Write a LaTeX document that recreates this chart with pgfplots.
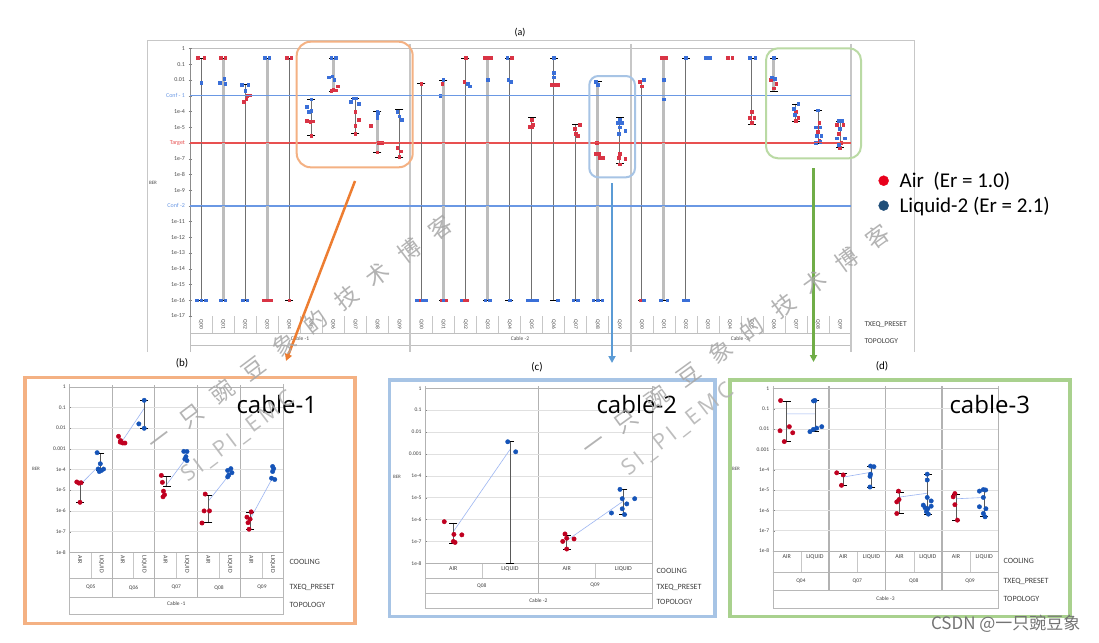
\documentclass[border=0pt]{standalone}
\usepackage{fontspec}
\setmainfont{Carlito}
\newfontfamily\cjk{Noto Sans CJK SC}
\newfontfamily\hand{Open Sans}
\usepackage{pgfplots}
\usepackage{pgfplotstable}
\pgfplotsset{compat=1.18}
\usetikzlibrary{arrows.meta}

\definecolor{ptred}{HTML}{D93445}
\definecolor{ptblue}{HTML}{3A6FD8}
\definecolor{dred}{HTML}{C00020}
\definecolor{dblue}{HTML}{1554B8}
\definecolor{legred}{HTML}{E8001C}
\definecolor{legblue}{HTML}{1F4E79}
\definecolor{confblue}{HTML}{6A98E4}
\definecolor{tgtred}{HTML}{E85050}
\definecolor{fgorange}{HTML}{F4B183}
\definecolor{fgblue}{HTML}{A7C4E5}
\definecolor{fggreen}{HTML}{A9D18E}
\definecolor{arrorange}{HTML}{ED7D31}
\definecolor{arrblue}{HTML}{5B9BD5}
\definecolor{arrgreen}{HTML}{70AD47}
\definecolor{meanblue}{HTML}{9DB6F2}
\definecolor{barthin}{HTML}{707070}
\definecolor{barthick}{HTML}{BDBDBD}

\pgfplotstableread{
x y
0.5 0.25
0.5 1e-16
nan nan
2.5 0.005
2.5 1e-16
nan nan
4.5 0.25
4.5 1e-16
nan nan
5.5 6e-4
5.5 3e-6
nan nan
7.5 7e-4
7.5 4e-6
nan nan
9.5 1.3e-4
9.5 1.3e-7
nan nan
10.5 0.006
10.5 1e-16
nan nan
12.5 0.25
12.5 1e-16
nan nan
14.5 0.25
14.5 1e-16
nan nan
15.5 4e-5
15.5 1e-16
nan nan
16.5 0.25
16.5 1e-16
nan nan
17.5 1.5e-5
17.5 1e-16
nan nan
19.5 4e-5
19.5 5e-8
nan nan
20.5 0.01
20.5 1e-16
nan nan
22.5 0.25
22.5 1e-16
nan nan
25.5 0.25
25.5 1.5e-5
nan nan
27.5 3e-4
27.5 2.5e-5
nan nan
28.5 1.2e-4
28.5 1e-6
nan nan
29.5 2.5e-5
29.5 5e-7
}\mainthin

\pgfplotstableread{
x y
1.5 0.25
1.5 1e-16
nan nan
3.5 0.25
3.5 1e-16
nan nan
6.5 0.25
6.5 0.002
nan nan
8.5 1e-4
8.5 2.5e-7
nan nan
11.5 0.01
11.5 1e-16
nan nan
13.5 0.25
13.5 1e-16
nan nan
18.5 0.008
18.5 1e-16
nan nan
21.5 0.25
21.5 1e-16
nan nan
26.5 0.25
26.5 0.002
}\mainthick

\pgfplotstableread{
x y
0.35 0.25
0.65 0.25
1.4 0.25
1.6 0.25
2.6 1e-3
2.7 1.1e-3
2.55 6e-4
2.45 4e-4
3.35 1e-16
3.5 1e-16
3.65 1e-16
4.4 0.25
4.6 0.25
4.5 1e-16
5.3 2.5e-5
5.45 2.2e-5
5.6 2.4e-5
5.5 3e-6
6.5 2.5e-3
6.7 4e-3
6.4 2e-3
6.6 2.2e-3
7.5 1e-4
7.65 3e-5
7.5 1.2e-5
7.5 4e-6
8.2 1.2e-5
8.55 1e-6
8.7 1e-6
8.5 2.5e-7
9.4 5e-7
9.55 3e-7
9.5 1.3e-7
10.5 0.006
10.4 1e-16
11.45 0.006
11.4 1e-16
11.6 1e-16
12.5 0.25
12.45 0.008
12.4 1e-16
12.55 1e-16
13.35 0.25
13.5 0.25
13.65 0.25
14.6 0.25
15.5 3e-5
15.55 1.5e-5
15.4 1.1e-5
15.5 1e-5
16.4 0.005
16.5 0.005
16.6 0.005
16.7 0.005
17.7 1.5e-5
17.45 8e-6
17.5 4e-6
17.6 3e-6
18.45 1e-6
18.4 2e-7
18.55 2e-7
18.6 1.2e-7
18.75 1.2e-7
19.5 2e-7
19.45 1.2e-7
19.75 1e-7
19.5 4.5e-8
20.4 0.008
20.5 0.004
20.45 1e-16
21.4 0.25
21.6 0.25
24.4 0.25
24.6 0.25
25.5 1e-4
25.4 4e-5
25.6 4e-5
25.5 2e-5
26.35 0.01
26.6 0.006
26.5 0.003
27.5 1e-4
27.6 4e-5
27.5 2.5e-5
28.55 2e-5
28.5 5e-6
28.55 1.5e-6
28.45 1e-5
29.35 1.5e-5
29.65 1.5e-5
29.45 4e-6
29.55 1e-6
29.5 5e-7
}\mainred

\pgfplotstableread{
x y
0.5 0.007
0.3 1e-16
0.5 1e-16
0.7 1e-16
1.55 0.012
1.35 0.007
1.6 0.006
1.4 1e-16
1.6 1e-16
2.35 0.005
2.65 0.005
2.5 0.002
2.4 1e-16
2.6 1e-16
3.4 0.25
3.6 0.25
5.5 6e-4
5.3 2e-4
5.4 1e-4
5.5 1.1e-4
6.4 0.25
6.6 0.25
6.3 0.015
6.45 0.017
6.55 0.01
7.4 7e-4
7.55 7e-4
7.3 4e-4
7.65 3e-4
8.5 1e-4
8.55 8e-5
8.5 6e-5
8.5 4e-5
9.4 1e-4
9.5 5e-5
9.6 3e-5
10.3 1e-16
10.55 1e-16
10.7 1e-16
11.5 0.01
11.35 1e-3
11.5 1e-16
12.6 0.006
12.7 0.004
12.3 1e-16
13.5 0.01
13.4 1e-16
13.6 1e-16
14.4 0.25
14.45 0.01
14.55 0.008
14.5 1e-16
15.3 1e-16
15.45 1e-16
15.6 1e-16
15.75 1e-16
16.5 0.25
16.5 0.03
16.5 0.015
16.7 1e-16
17.4 1e-16
17.6 1e-16
18.4 0.008
18.5 0.005
18.3 1e-16
18.5 1e-16
18.7 1e-16
19.5 3e-5
19.4 2e-5
19.6 2e-5
19.5 1e-5
19.75 6e-6
19.45 4e-6
20.6 0.01
20.6 1e-16
21.5 0.01
21.5 6e-4
21.35 1e-16
21.65 1e-16
22.5 0.25
22.4 1e-16
22.6 1e-16
23.4 0.25
23.6 0.25
25.4 0.25
25.65 0.25
26.5 0.25
26.4 0.015
26.55 0.012
27.6 3e-4
27.4 1.5e-4
27.45 6e-5
28.5 1.2e-4
28.4 1e-5
28.6 1e-5
28.45 3e-6
28.65 3e-6
28.4 1e-6
28.6 1.2e-6
29.45 2.5e-5
29.6 2.5e-5
29.5 8e-6
29.35 2e-6
29.7 2e-6
29.45 8e-7
}\mainblue

\pgfplotstableread{
x y
0.35 2.5e-5
0.45 2.2e-5
0.55 2.3e-5
0.5 2.6e-6
2.3 4e-3
2.4 2.5e-3
2.5 1.9e-3
2.6 1.9e-3
2.38 2.1e-3
4.3 5.2e-5
4.35 2.4e-5
4.4 9e-6
4.45 6e-6
4.38 4.8e-6
6.35 6.5e-6
6.3 1e-6
6.55 1e-6
6.2 2.6e-7
8.5 9e-7
8.3 5e-7
8.45 4e-7
8.35 2.7e-7
8.4 1.3e-7
}\bred
\pgfplotstableread{
x y
1.3 6.5e-4
1.45 1.9e-4
1.35 1.05e-4
1.5 9e-5
1.6 1.05e-4
1.4 8e-5
3.5 0.22
3.25 0.016
3.5 0.0098
5.35 7.5e-4
5.5 7.4e-4
5.45 4.2e-4
5.5 2.7e-4
5.4 3.2e-4
7.55 1.1e-4
7.4 9e-5
7.45 5.4e-5
7.4 4.4e-5
7.6 7e-5
9.5 1.4e-4
9.55 1.1e-4
9.5 8e-5
9.45 3.8e-5
9.6 3.3e-5
}\bblue
\pgfplotstableread{
x y
0.5 2.5e-5
0.5 2.6e-6
nan nan
1.45 5.8e-4
1.45 9e-5
nan nan
3.5 0.22
3.5 0.0098
nan nan
4.55 4.5e-5
4.55 1.6e-5
nan nan
6.5 6e-6
6.5 2.7e-7
nan nan
8.45 8.5e-7
8.45 1.3e-7
}\bbars
\pgfplotstableread{
x y
0.5 1.8e-5
1.5 2e-4
nan nan
2.5 2.6e-3
3.5 0.09
nan nan
4.5 1.6e-5
5.5 4e-4
nan nan
6.5 3e-6
7.5 6e-5
nan nan
8.5 5e-7
9.5 4e-5
}\bmean

\pgfplotstableread{
x y
0.34 8e-7
0.51 2.1e-7
0.65 2e-7
0.5 1e-7
0.53 9e-8
2.47 2.2e-7
2.5 1.4e-7
2.43 1e-7
2.63 1.3e-7
2.5 4.5e-8
}\cred
\pgfplotstableread{
x y
1.46 3.6e-3
1.6 1.25e-3
3.44 2.4e-5
3.48 9e-6
3.7 9e-6
3.56 5.2e-6
3.48 3.1e-6
3.29 2e-6
3.52 1.7e-6
}\cblue
\pgfplotstableread{
x y
0.5 7e-7
0.5 8.5e-8
nan nan
1.5 3.6e-3
1.5 1e-8
nan nan
2.5 2e-7
2.5 4.5e-8
nan nan
3.5 2.3e-5
3.5 1.7e-6
}\cbars
\pgfplotstableread{
x y
0.5 2.8e-7
1.5 1.6e-3
nan nan
2.5 1.1e-7
3.5 7e-6
}\cmean

\pgfplotstableread{
x y
0.28 0.25
0.26 8.2e-3
0.59 0.013
0.71 6.5e-3
0.41 2.4e-3
2.27 7e-5
2.5 5.5e-5
2.44 1.7e-5
4.46 8.8e-6
4.48 3.4e-6
4.4 2.6e-6
4.4 7e-7
6.46 6.7e-6
6.4 4.6e-6
6.46 1.9e-6
6.55 3.3e-7
}\dredt
\pgfplotstableread{
x y
1.5 0.25
1.45 0.24
1.32 7.4e-3
1.44 9.5e-3
1.56 0.011
1.74 0.013
3.47 1.5e-4
3.59 1.4e-4
3.47 6e-5
3.45 4.7e-5
3.45 1.4e-5
5.48 6e-5
5.48 3.1e-5
5.48 4.3e-6
5.62 2.9e-6
5.34 1.8e-6
5.4 1.35e-6
5.5 1.2e-6
5.62 1.6e-6
5.45 8.6e-7
5.52 6.5e-7
7.47 1.05e-5
7.33 8.8e-6
7.55 1e-5
7.47 4.3e-6
7.33 1.5e-6
7.56 1.2e-6
7.47 7e-7
7.53 4.8e-7
}\dbluet
\pgfplotstableread{
x y
0.5 0.24
0.5 2.4e-3
nan nan
1.5 0.25
1.5 8e-3
nan nan
2.5 7e-5
2.5 1.7e-5
nan nan
3.5 1.5e-4
3.5 1.4e-5
nan nan
4.5 8e-6
4.5 7e-7
nan nan
5.5 6e-5
5.5 6.5e-7
nan nan
6.5 6.5e-6
6.5 3.3e-7
nan nan
7.5 1e-5
7.5 5e-7
}\dbars
\pgfplotstableread{
x y
0.5 0.055
1.5 0.055
nan nan
2.5 4.3e-5
3.5 7.5e-5
nan nan
4.5 4.5e-6
5.5 7e-6
nan nan
6.5 3.7e-6
7.5 4.3e-6
}\dmean

\begin{document}
\begin{tikzpicture}
\path[use as bounding box, fill=white] (0pt,0pt) rectangle (1099pt,-642pt);

\begin{scope}[x=1pt,y=-1pt]
  \draw[black!22] (147,352) -- (147,40) -- (914,40) -- (914,352);
  \node[font=\fontsize{10}{12}\selectfont] at (520,33) {(a)};
  \draw[black!25] (190,48.5) -- (851,48.5);
  \draw[black!25] (190,333) -- (851,333);
  \draw[black!25] (190,345) -- (851,345);
  \draw[black!25] (190,316) -- (190,352);
  \foreach \i in {1,...,29} \draw[black!22] ({190+22.0333*\i},316) -- ++(0,17);
  \draw[black!22, line width=2.2pt] (410.3,44) -- (410.3,352);
  \draw[black!22, line width=2.2pt] (630.7,44) -- (630.7,352);
  \draw[black!22, line width=2pt] (851,44) -- (851,352);
  \node[font=\fontsize{5.5}{6}\selectfont, text=black!70] at (300,339) {Cable -1};
  \node[font=\fontsize{5.5}{6}\selectfont, text=black!70] at (520,339) {Cable -2};
  \node[font=\fontsize{5.5}{6}\selectfont, text=black!70] at (740,339) {Cable -3};
  \node[anchor=west, font=\fontsize{7.5}{8}\selectfont, text=black!75] at (861,325) {TXEQ\_PRESET};
  \node[anchor=west, font=\fontsize{7.5}{8}\selectfont, text=black!75] at (861,341) {TOPOLOGY};
  \node[font=\fontsize{5}{6}\selectfont, text=black!70] at (153,183) {BER};

  \draw[fgorange, line width=3.5pt] (25,377.5) rectangle (355,623.5);
  \draw[fgblue, line width=3.5pt] (389.5,380) rectangle (715,616.5);
  \draw[fggreen, line width=3.5pt] (730,380) rectangle (1070,616.5);
  \node[font=\fontsize{11}{12}\selectfont] at (182,363) {(b)};
  \node[font=\fontsize{11}{12}\selectfont] at (537,367) {(c)};
  \node[font=\fontsize{11}{12}\selectfont] at (882,366) {(d)};

  \draw[black!28] (69.3,384) -- (69.3,614) -- (283.3,614) -- (283.3,384);
  \draw[black!28] (69.3,578) -- (283.3,578);
  \draw[black!28] (69.3,597) -- (283.3,597);
  \foreach \k in {1,...,4} \draw[black!30, line width=1pt] ({69.3+42.8*\k},385) -- ({69.3+42.8*\k},597);
  \foreach \k in {0,...,4} \draw[black!22] ({69.3+42.8*\k+21.4},552.3) -- ({69.3+42.8*\k+21.4},578);
  \foreach \k/\q in {0/Q05,1/Q06,2/Q07,3/Q08,4/Q09}
    \node[font=\fontsize{5.5}{6}\selectfont, text=black!75] at ({69.3+42.8*\k+21.4},587.5) {\q};
  \node[font=\fontsize{5.5}{6}\selectfont, text=black!75] at (176.3,604) {Cable -1};
  \node[anchor=west, font=\fontsize{8}{9}\selectfont, text=black!75] at (286,561.7) {COOLING};
  \node[anchor=west, font=\fontsize{8}{9}\selectfont, text=black!75] at (286,587.7) {TXEQ\_PRESET};
  \node[anchor=west, font=\fontsize{8}{9}\selectfont, text=black!75] at (286,605) {TOPOLOGY};
  \node[font=\fontsize{5}{6}\selectfont, text=black!70] at (36,469) {BER};

  \draw[black!28] (425,386) -- (425,608) -- (651.7,608) -- (651.7,386);
  \draw[black!28] (425,578) -- (651.7,578);
  \draw[black!28] (425,593) -- (651.7,593);
  \draw[black!30, line width=1.5pt] (538.35,386) -- (538.35,593);
  \draw[black!22] (481.7,563.3) -- (481.7,578);
  \draw[black!22] (595,563.3) -- (595,578);
  \node[font=\fontsize{5.5}{6}\selectfont, text=black!75] at (481.7,585.5) {Q08};
  \node[font=\fontsize{5.5}{6}\selectfont, text=black!75] at (595,585.5) {Q09};
  \node[font=\fontsize{5.5}{6}\selectfont, text=black!75] at (538.35,600.5) {Cable -2};
  \node[anchor=west, font=\fontsize{8}{9}\selectfont, text=black!75] at (653,571) {COOLING};
  \node[anchor=west, font=\fontsize{8}{9}\selectfont, text=black!75] at (653,587.3) {TXEQ\_PRESET};
  \node[anchor=west, font=\fontsize{8}{9}\selectfont, text=black!75] at (653,601.7) {TOPOLOGY};
  \node[font=\fontsize{5}{6}\selectfont, text=black!70] at (397,476.7) {BER};

  \draw[black!28] (772.7,386) -- (772.7,608.3) -- (998.3,608.3) -- (998.3,386);
  \draw[black!28] (772.7,572.3) -- (998.3,572.3);
  \draw[black!28] (772.7,590) -- (998.3,590);
  \foreach \k in {1,2,3} \draw[black!30, line width=1.5pt] ({772.7+56.4*\k},386) -- ({772.7+56.4*\k},590);
  \foreach \k in {0,...,3} \draw[black!22] ({772.7+56.4*\k+28.2},551) -- ({772.7+56.4*\k+28.2},572.3);
  \foreach \k/\q in {0/Q04,1/Q07,2/Q08,3/Q09}
    \node[font=\fontsize{5.5}{6}\selectfont, text=black!75] at ({772.7+56.4*\k+28.2},581) {\q};
  \node[font=\fontsize{5.5}{6}\selectfont, text=black!75] at (885.5,599) {Cable -3};
  \node[anchor=west, font=\fontsize{8}{9}\selectfont, text=black!75] at (1000,560.7) {COOLING};
  \node[anchor=west, font=\fontsize{8}{9}\selectfont, text=black!75] at (1000,581.7) {TXEQ\_PRESET};
  \node[anchor=west, font=\fontsize{8}{9}\selectfont, text=black!75] at (1000,599.3) {TOPOLOGY};
  \node[font=\fontsize{5}{6}\selectfont, text=black!70] at (736,469) {BER};
\end{scope}

% ================= main axis (a) =================
\begin{axis}[
  at={(190pt,-316pt)}, anchor=south west,
  scale only axis, width=661pt, height=267.5pt,
  xmin=0, xmax=30, ymode=log, ymin=1e-17, ymax=1,
  clip=false,
  axis x line=none,
  axis y line=left,
  axis line style={draw=black!45, -},
  ytick={1,1e-1,1e-2,1e-3,1e-4,1e-5,1e-6,1e-7,1e-8,1e-9,1e-10,1e-11,1e-12,1e-13,1e-14,1e-15,1e-16,1e-17},
  yticklabels={1,0.1,0.01,{\textcolor{confblue}{Conf - 1}},1e-4,1e-5,{\textcolor{tgtred}{Target}},1e-7,1e-8,1e-9,{\textcolor{confblue}{Conf -2}},1e-11,1e-12,1e-13,1e-14,1e-15,1e-16,1e-17},
  yticklabel style={font=\fontsize{6}{7}\selectfont, text=black!70},
  yminorticks=false, major tick length=3pt, ytick style={black!50},
  legend style={at={(1.037,0.553)}, anchor=north west, draw=none, fill=none,
    font=\fontsize{21}{25}\selectfont, row sep=4pt},
  legend cell align=left,
]
\addlegendimage{only marks, mark=*, mark size=5pt, color=legred}
\addlegendentry{\hspace{9pt}Air\ \ (Er = 1.0)}
\addlegendimage{only marks, mark=*, mark size=5pt, color=legblue}
\addlegendentry{\hspace{9pt}Liquid-2 (Er = 2.1)}
\addplot[forget plot, draw=confblue, line width=0.5pt] coordinates {(0,1e-3) (30,1e-3)};
\addplot[forget plot, draw=tgtred, line width=0.5pt] coordinates {(0,1e-6) (30,1e-6)};
\addplot[forget plot, draw=confblue, line width=0.5pt] coordinates {(0,1e-10) (30,1e-10)};
\addplot[forget plot, draw=barthick, line width=3pt, unbounded coords=jump,
  mark=-, mark size=4pt, mark options={black, solid, line width=0.6pt}] table {\mainthick};
\addplot[forget plot, draw=barthin, line width=0.9pt, unbounded coords=jump,
  mark=-, mark size=4pt, mark options={black, solid, line width=0.6pt}] table {\mainthin};
\addplot[forget plot, only marks, mark=square*, mark size=1.3pt, color=ptred] table {\mainred};
\addplot[forget plot, only marks, mark=square*, mark size=1.3pt, color=ptblue] table {\mainblue};
\end{axis}

\begin{axis}[
  at={(190pt,-316pt)}, anchor=south west,
  scale only axis, width=661pt, height=267.5pt,
  xmin=0, xmax=30, ymin=0, ymax=1,
  axis line style={draw=none}, ytick=\empty,
  xtick={0.5,1.5,...,29.5},
  xticklabels={Q00,Q01,Q02,Q03,Q04,Q05,Q06,Q07,Q08,Q09,Q00,Q01,Q02,Q03,Q04,Q05,Q06,Q07,Q08,Q09,Q00,Q01,Q02,Q03,Q04,Q05,Q06,Q07,Q08,Q09},
  xtick style={draw=none},
  xticklabel style={rotate=-90, anchor=west, font=\fontsize{5.5}{6}\selectfont, text=black!70},
]
\end{axis}

% ================= panel (b) =================
\begin{axis}[
  at={(69.3pt,-552.3pt)}, anchor=south west, scale only axis, width=214pt, height=165.6pt,
  xmin=0, xmax=10, ymode=log, ymin=1e-8, ymax=1, clip=false,
  ytick={1,0.1,0.01,0.001,1e-4,1e-5,1e-6,1e-7,1e-8},
  yticklabels={1,0.1,0.01,0.001,1e-4,1e-5,1e-6,1e-7,1e-8},
  yticklabel style={font=\fontsize{5.5}{6}\selectfont, text=black!75},
  yminorticks=false, ymajorgrids, grid style={black!12},
  axis line style={draw=black!30},
  tick pos=left, major tick length=2pt, ytick style={black!50},
  xtick style={draw=none},
  xtick={0.5,1.5,...,9.5},
  xticklabels={AIR,LIQUID,AIR,LIQUID,AIR,LIQUID,AIR,LIQUID,AIR,LIQUID},
  xticklabel style={rotate=-90, anchor=west, font=\fontsize{6}{7}\selectfont, text=black!75},
]
\addplot[forget plot, draw=meanblue, line width=0.6pt, unbounded coords=jump] table {\bmean};
\addplot[forget plot, draw=black!65, line width=0.9pt, unbounded coords=jump,
  mark=-, mark size=4pt, mark options={black, solid, line width=0.6pt}] table {\bbars};
\addplot[forget plot, only marks, mark=*, mark size=2.2pt, color=dred] table {\bred};
\addplot[forget plot, only marks, mark=*, mark size=2.2pt, color=dblue] table {\bblue};
\end{axis}

% ================= panel (c) =================
\begin{axis}[
  at={(425pt,-563.3pt)}, anchor=south west, scale only axis, width=226.7pt, height=175pt,
  xmin=0, xmax=4, ymode=log, ymin=1e-8, ymax=1, clip=false,
  ytick={1,0.1,0.01,0.001,1e-4,1e-5,1e-6,1e-7,1e-8},
  yticklabels={1,0.1,0.01,0.001,1e-4,1e-5,1e-6,1e-7,1e-8},
  yticklabel style={font=\fontsize{5.5}{6}\selectfont, text=black!75},
  yminorticks=false, ymajorgrids, grid style={black!12},
  axis line style={draw=black!30},
  tick pos=left, major tick length=2pt, ytick style={black!50},
  xtick style={draw=none},
  xtick={0.5,1.5,2.5,3.5},
  xticklabels={AIR,LIQUID,AIR,LIQUID},
  xticklabel style={font=\fontsize{6}{7}\selectfont, text=black!75},
]
\addplot[forget plot, draw=meanblue, line width=0.6pt, unbounded coords=jump] table {\cmean};
\addplot[forget plot, draw=black!65, line width=0.9pt, unbounded coords=jump,
  mark=-, mark size=4pt, mark options={black, solid, line width=0.6pt}] table {\cbars};
\addplot[forget plot, only marks, mark=*, mark size=2.2pt, color=dred] table {\cred};
\addplot[forget plot, only marks, mark=*, mark size=2.2pt, color=dblue] table {\cblue};
\end{axis}

% ================= panel (d) =================
\begin{axis}[
  at={(772.7pt,-551pt)}, anchor=south west, scale only axis, width=225.6pt, height=162.7pt,
  xmin=0, xmax=8, ymode=log, ymin=1e-8, ymax=1, clip=false,
  ytick={1,0.1,0.01,0.001,1e-4,1e-5,1e-6,1e-7,1e-8},
  yticklabels={1,0.1,0.01,0.001,1e-4,1e-5,1e-6,1e-7,1e-8},
  yticklabel style={font=\fontsize{5.5}{6}\selectfont, text=black!75},
  yminorticks=false, ymajorgrids, grid style={black!12},
  axis line style={draw=black!30},
  tick pos=left, major tick length=2pt, ytick style={black!50},
  xtick style={draw=none},
  xtick={0.5,1.5,...,7.5},
  xticklabels={AIR,LIQUID,AIR,LIQUID,AIR,LIQUID,AIR,LIQUID},
  xticklabel style={font=\fontsize{6}{7}\selectfont, text=black!75},
]
\addplot[forget plot, draw=meanblue, line width=0.6pt, unbounded coords=jump] table {\dmean};
\addplot[forget plot, draw=black!65, line width=0.9pt, unbounded coords=jump,
  mark=-, mark size=4pt, mark options={black, solid, line width=0.6pt}] table {\dbars};
\addplot[forget plot, only marks, mark=*, mark size=2.2pt, color=dred] table {\dredt};
\addplot[forget plot, only marks, mark=*, mark size=2.2pt, color=dblue] table {\dbluet};
\end{axis}

\begin{scope}[x=1pt,y=-1pt]
  \draw[confblue, line width=1pt] (190,95.71) -- (851,95.71);
  \draw[tgtred, line width=1pt] (190,142.91) -- (851,142.91);
  \draw[confblue, line width=1pt] (190,205.85) -- (851,205.85);

  \draw[fgorange, line width=2pt, rounded corners=14pt] (296.7,41.7) rectangle (412.7,167.3);
  \draw[fgblue, line width=2pt, rounded corners=9pt] (589.3,76) rectangle (635,177.3);
  \draw[fggreen!80, line width=2pt, rounded corners=12pt] (766,48.3) rectangle (861,158.3);
  \draw[arrorange, line width=2.5pt, -{Triangle[length=7pt,width=7pt]}] (355,181) -- (286,361);
  \draw[arrblue, line width=2.5pt, -{Triangle[length=7pt,width=7pt]}] (612,183) -- (612,363);
  \draw[arrgreen, line width=2.5pt, -{Triangle[length=7pt,width=7pt]}] (813.5,168) -- (813.5,362);

  \node[anchor=west, font=\hand\fontsize{24}{26}\selectfont] at (233,404) {cable-1};
  \node[anchor=west, font=\hand\fontsize{24}{26}\selectfont] at (593,404) {cable-2};
  \node[anchor=west, font=\hand\fontsize{24}{26}\selectfont] at (946,404) {cable-3};

  \node[rotate=37, text=black!35, opacity=0.85, font=\cjk\fontsize{23}{24}\selectfont] at (300,333)
    {一\hspace{16pt}只\hspace{16pt}豌\hspace{16pt}豆\hspace{16pt}象\hspace{16pt}的\hspace{16pt}技\hspace{16pt}术\hspace{16pt}博\hspace{16pt}客};
  \node[rotate=36, text=black!35, opacity=0.85, font=\cjk\fontsize{23}{24}\selectfont] at (736,340)
    {一\hspace{16pt}只\hspace{16pt}豌\hspace{16pt}豆\hspace{16pt}象\hspace{16pt}的\hspace{16pt}技\hspace{16pt}术\hspace{16pt}博\hspace{16pt}客};
  \node[rotate=37, text=black!30, opacity=0.85, font=\hand\fontsize{22}{22}\selectfont] at (238,437)
    {S\hspace{4pt}I\hspace{4pt}\_\hspace{4pt}P\hspace{4pt}I\hspace{4pt}\_\hspace{4pt}E\hspace{4pt}M\hspace{4pt}C};
  \node[rotate=38, text=black!30, opacity=0.85, font=\hand\fontsize{22}{22}\selectfont] at (678,430)
    {S\hspace{4pt}I\hspace{4pt}\_\hspace{4pt}P\hspace{4pt}I\hspace{4pt}\_\hspace{4pt}E\hspace{4pt}M\hspace{4pt}C};
  \node[anchor=east, text=black!55, font=\cjk\fontsize{17}{18}\selectfont] at (1084,624) {CSDN @一只豌豆象};
\end{scope}
\end{tikzpicture}
\end{document}
